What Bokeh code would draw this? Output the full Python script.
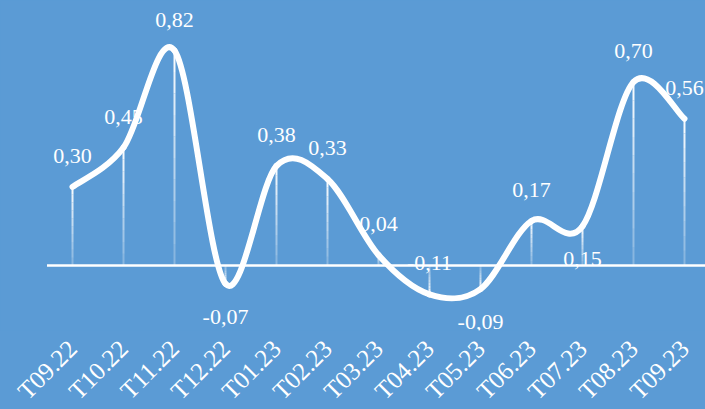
import math
import numpy as np
from bokeh.plotting import figure
from bokeh.models import ColumnDataSource, FixedTicker, Range1d, GlobalInlineStyleSheet
from bokeh.core.properties import value
from bokeh.embed import file_html
from bokeh.resources import INLINE

# ---- data ----
categories = ["T09.22", "T10.22", "T11.22", "T12.22", "T01.23", "T02.23", "T03.23",
              "T04.23", "T05.23", "T06.23", "T07.23", "T08.23", "T09.23"]
values = [0.30, 0.45, 0.82, -0.07, 0.38, 0.33, 0.04, -0.11, -0.09, 0.17, 0.15, 0.70, 0.56]
label_side = ["above", "above", "above", "below", "above", "above", "above",
              "above", "below", "above", "below", "above", "above"]

BG = "#5B9BD5"
FONT = "Liberation Serif"

n = len(categories)
xs = np.arange(n, dtype=float)
ys = np.array(values, dtype=float)

p = figure(frame_width=705, frame_height=330, output_backend="svg", toolbar_location=None,
           x_range=Range1d(-1.412, 12.412), y_range=Range1d(-0.248, 1.011),
           min_border_left=0, min_border_right=0, min_border_top=0, min_border_bottom=0)
p.stylesheets = [GlobalInlineStyleSheet(css="html, body { background-color: #5B9BD5; }")]
p.background_fill_color = BG
p.border_fill_color = BG
p.outline_line_color = None
p.xgrid.visible = False
p.ygrid.visible = False
p.yaxis.visible = False

# drop lines with a fading gradient (bright at the point, faint at the axis)
steps = 10
sx0, sy0, sx1, sy1, salpha = [], [], [], [], []
for x, y in zip(xs, ys):
    for k in range(steps):
        f0 = k / steps
        f1 = (k + 1) / steps
        sx0.append(x); sx1.append(x)
        sy0.append(y * (1 - f0)); sy1.append(y * (1 - f1))
        salpha.append(0.95 - 0.75 * f0)
p.segment(x0=sx0, y0=sy0, x1=sx1, y1=sy1, line_color="white", line_width=2, line_alpha=salpha)

# zero axis line
p.segment(x0=[xs[0] - 0.5], y0=[0], x1=[xs[-1] + 0.5], y1=[0], line_color="white", line_width=2.5)

# smoothed line (Catmull-Rom as cubic Bezier)
px = np.concatenate([[xs[0]], xs, [xs[-1]]])
py = np.concatenate([[ys[0]], ys, [ys[-1]]])
bx0, by0, bx1, by1, c0x, c0y, c1x, c1y = [], [], [], [], [], [], [], []
for i in range(1, n):
    a, b = i, i + 1  # indices in padded arrays
    bx0.append(px[a]); by0.append(py[a]); bx1.append(px[b]); by1.append(py[b])
    c0x.append(px[a] + (px[b] - px[a - 1]) / 6); c0y.append(py[a] + (py[b] - py[a - 1]) / 6)
    c1x.append(px[b] - (px[b + 1] - px[a]) / 6); c1y.append(py[b] - (py[b + 1] - py[a]) / 6)
p.bezier(x0=bx0, y0=by0, x1=bx1, y1=by1, cx0=c0x, cy0=c0y, cx1=c1x, cy1=c1y,
         line_color="white", line_width=6, line_cap="round")

# data labels
labels = [f"{v:.2f}".replace(".", ",") for v in values]
offs = [-31 if s == "above" else 33 for s in label_side]
src = ColumnDataSource(dict(x=xs, y=ys, t=labels, off=offs))
p.text(x="x", y="y", text="t", y_offset="off", source=src, text_color="white",
       text_font=value(FONT), text_font_size="22px", text_align="center",
       text_baseline="middle")

# category axis
p.xaxis.ticker = FixedTicker(ticks=list(range(n)))
p.xaxis.major_label_overrides = {i: c for i, c in enumerate(categories)}
p.xaxis.major_label_orientation = math.pi / 4
p.xaxis.axis_line_color = None
p.xaxis.major_tick_line_color = None
p.xaxis.minor_tick_line_color = None
p.xaxis.major_label_text_color = "white"
p.xaxis.major_label_text_font = FONT
p.xaxis.major_label_text_font_size = "25px"
p.xaxis.major_label_standoff = 8

open("out.html", "w").write(file_html(p, INLINE))
